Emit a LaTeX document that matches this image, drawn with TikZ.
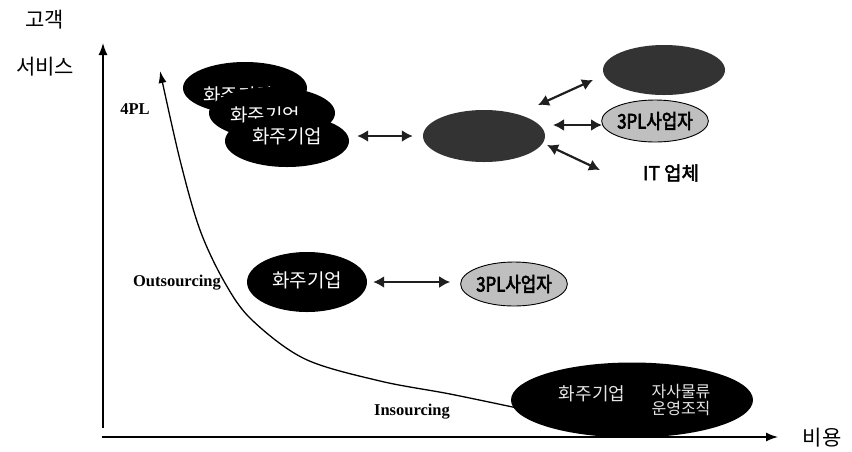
\documentclass[tikz,border=0pt]{standalone}
\usepackage{fontspec}
\setmainfont{Liberation Serif}
\newfontfamily\kr[AutoFakeBold=2.5]{Noto Sans CJK KR}
\newfontfamily\krc[AutoFakeBold=3,FakeStretch=0.84]{Noto Sans CJK KR}
\usetikzlibrary{arrows.meta,shapes.geometric}
\tikzset{
  blk/.style={ellipse, fill=black, inner sep=0pt},
  drk/.style={ellipse, fill=black!80, inner sep=0pt},
  lgt/.style={ellipse, fill=black!25, draw=black, line width=0.9pt, inner sep=0pt,
              font=\krc\bfseries\fontsize{20}{20}\selectfont},
  wtxt/.style={text=white, font=\kr\fontsize{19}{19}\selectfont, inner sep=0pt},
  axislbl/.style={font=\kr\fontsize{21}{21}\selectfont, inner sep=0pt},
  serlbl/.style={font=\bfseries\fontsize{16.5}{16.5}\selectfont, inner sep=0pt},
  dbl/.style={{Latex[length=11pt,width=12pt]}-{Latex[length=11pt,width=12pt]}, line width=2.2pt, draw=black!88},
  axis/.style={-{Latex[length=12pt,width=9pt]}, line width=1.4pt},
}
\begin{document}
\begin{tikzpicture}[x=1pt,y=-1pt]
\useasboundingbox (0,0) rectangle (852,451);

% axis labels
\node[axislbl] (lgk) at (45,20) {고객};
\node[axislbl] (lsv) at (45,67) {서비스};
\node[axislbl] (lby) at (822,438) {비용};

% axes
\coordinate (yb) at (103,428);
\coordinate (yt) at (103,43);
\coordinate (xl) at (102,437);
\coordinate (xr) at (778,437);
\draw[axis] (yb) -- (yt);
\draw[axis] (xl) -- (xr);

% trend curve
\coordinate (cs) at (522,409);
\coordinate (ce) at (160,71);
\draw[-{Latex[length=12pt,width=8pt]}, line width=1.3pt]
  plot[smooth, tension=0.55] coordinates {(cs) (450,394) (380,381) (305,359) (252,320) (225,283) (200,230) (180,160) (ce)};

% labels on the curve
\node[serlbl] (l4pl) at (135,109) {4PL};
\node[serlbl] (lout) at (177,283) {Outsourcing};
\node[serlbl] (lins) at (412,412) {Insourcing};

% 4PL stack
\node[blk, minimum width=124pt, minimum height=52pt] (e1) at (245,88) {};
\node[wtxt] (t1) at (238,95) {화주기업};
\node[blk, minimum width=126pt, minimum height=52pt] (e2) at (272,113) {};
\node[wtxt] (t2) at (265,115.5) {화주기업};
\node[blk, minimum width=124pt, minimum height=52pt] (e3) at (287,141) {};
\node[wtxt] (t3) at (287,136.5) {화주기업};

\node[drk, minimum width=122pt, minimum height=52pt] (c) at (484,136) {};
\node[drk, minimum width=122pt, minimum height=50pt] (tr) at (664,70) {};
\node[lgt, minimum width=100pt, minimum height=42pt] (p1) at (655,121) {3PL사업자};
\node[font=\kr\bfseries\fontsize{19}{19}\selectfont, inner sep=1pt] (it) at (671,173) {IT 업체};

\draw[dbl] ([xshift=8pt]e3.east |- c.west) -- ([xshift=-10pt]c.west);
\draw[dbl] ([shift={(54,-31)}]c.center) -- ([shift={(-71,10)}]tr.center);
\draw[dbl] ([shift={(69,-11)}]c.center) -- ([shift={(-53,4)}]p1.center);
\draw[dbl] ([shift={(63,9)}]c.center) -- ([shift={(-71,-3)}]it.center);

% outsourcing row
\node[blk, minimum width=120pt, minimum height=60pt] (o1) at (307,282) {};
\node[wtxt] (ot1) at (307,280) {화주기업};
\node[lgt, minimum width=104pt, minimum height=44pt] (o2) at (514,284) {3PL사업자};
\draw[dbl] ([xshift=6pt]o1.east) -- ([xshift=-10pt]o2.west |- o1.east);

% insourcing
\node[blk, minimum width=242pt, minimum height=75pt] (b) at (632,400) {};
\node[wtxt, text=black!10, font=\kr\fontsize{18}{18}\selectfont] (bt1) at (592,394) {화주기업};
\node[wtxt, text=black!10, font=\kr\fontsize{16}{16}\selectfont, align=center] (bt2) at (681,400) {자사물류\\[1pt]운영조직};
\end{tikzpicture}
\end{document}
